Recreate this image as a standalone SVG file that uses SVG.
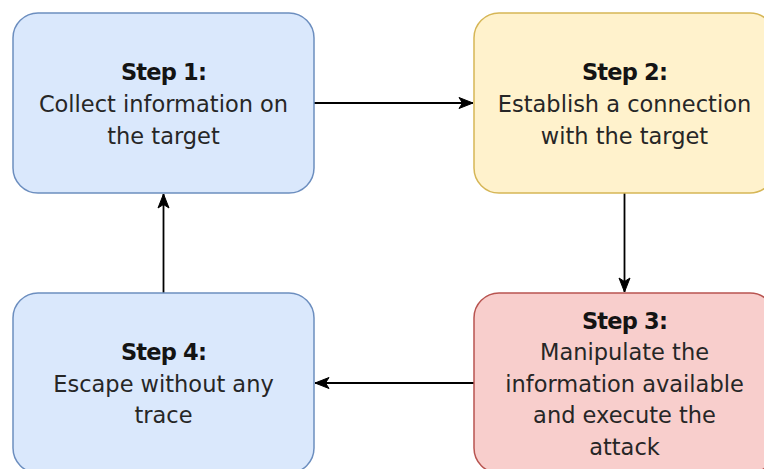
<svg xmlns="http://www.w3.org/2000/svg" width="764" height="469" viewBox="0 0 764 469">
  <style>
    .box { stroke-width: 1.5; }
    .blue { fill: #dae8fc; stroke: #6c8ebf; }
    .yellow { fill: #fff2cc; stroke: #d6b656; }
    .red { fill: #f8cecc; stroke: #b85450; }
    text { font-family: "DejaVu Sans", "Liberation Sans", sans-serif; font-size: 22.5px; fill: #262626; text-anchor: middle; }
    .title { font-weight: bold; letter-spacing: -0.8px; fill: #141414; }
    .edge { fill: none; stroke: #000; stroke-width: 1.8; }
  </style>
  <defs>
    <marker id="arrow" markerUnits="userSpaceOnUse" markerWidth="16" markerHeight="14" viewBox="0 0 16 14" refX="15" refY="7" orient="auto">
      <path d="M1,1.5 L15,7 L1,12.5 L4.5,7 Z" fill="#000" stroke="#000" stroke-width="1"/>
    </marker>
  </defs>

  <rect width="764" height="469" fill="#ffffff"/>

  <!-- connectors -->
  <g id="connectors">
    <line class="edge" x1="314" y1="103" x2="473" y2="103" marker-end="url(#arrow)"/>
    <line class="edge" x1="624.5" y1="193" x2="624.5" y2="292" marker-end="url(#arrow)"/>
    <line class="edge" x1="474" y1="383" x2="315" y2="383" marker-end="url(#arrow)"/>
    <line class="edge" x1="163.5" y1="293" x2="163.5" y2="194" marker-end="url(#arrow)"/>
  </g>

  <!-- step 1 -->
  <g id="step1">
    <rect class="box blue" x="13" y="13" width="301" height="180" rx="25" ry="25"/>
    <text x="163.5" y="80" class="title">Step 1:</text>
    <text x="163.5" y="112">Collect information on</text>
    <text x="163.5" y="143.5">the target</text>
  </g>

  <!-- step 2 -->
  <g id="step2">
    <rect class="box yellow" x="474" y="13" width="301" height="180" rx="25" ry="25"/>
    <text x="624.5" y="80" class="title">Step 2:</text>
    <text x="624.5" y="112">Establish a connection</text>
    <text x="624.5" y="143.5">with the target</text>
  </g>

  <!-- step 3 -->
  <g id="step3">
    <rect class="box red" x="474" y="293" width="301" height="180" rx="25" ry="25"/>
    <text x="624.5" y="328.5" class="title">Step 3:</text>
    <text x="624.5" y="360">Manipulate the</text>
    <text x="624.5" y="391.5">information available</text>
    <text x="624.5" y="423">and execute the</text>
    <text x="624.5" y="454.5">attack</text>
  </g>

  <!-- step 4 -->
  <g id="step4">
    <rect class="box blue" x="13" y="293" width="301" height="180" rx="25" ry="25"/>
    <text x="163.5" y="360" class="title">Step 4:</text>
    <text x="163.5" y="391.5">Escape without any</text>
    <text x="163.5" y="423">trace</text>
  </g>
</svg>
